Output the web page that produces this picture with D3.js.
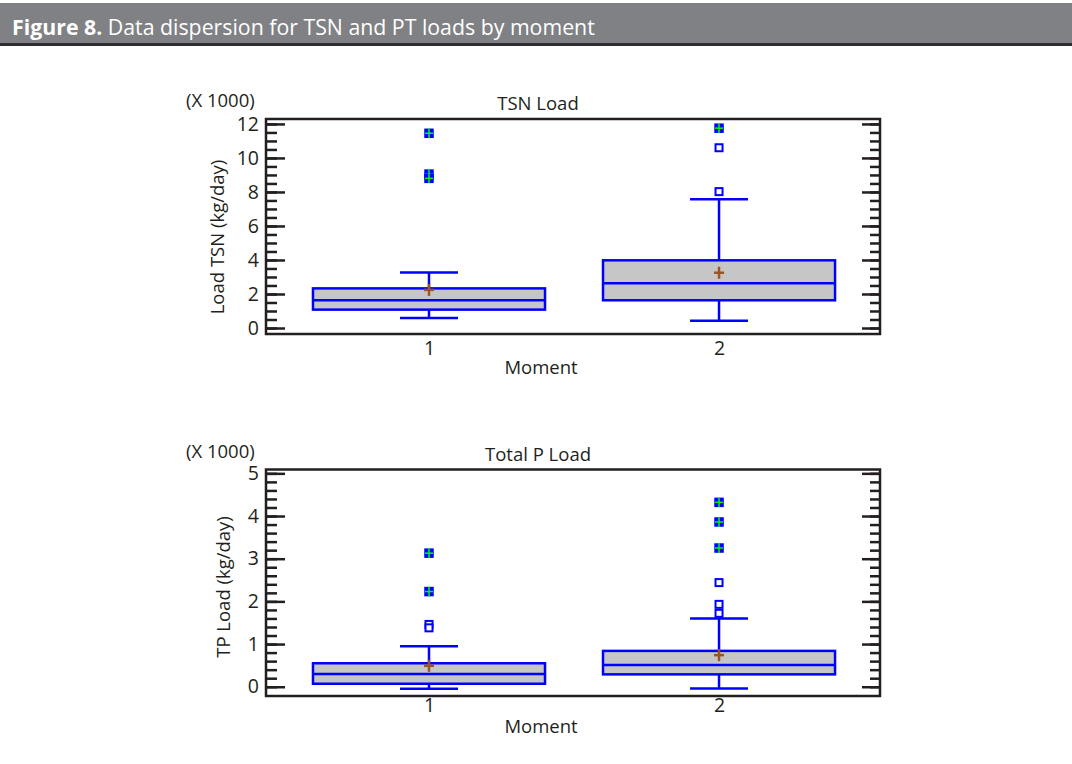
<!DOCTYPE html>
<html>
<head>
<meta charset="utf-8">
<script src="https://cdn.jsdelivr.net/npm/d3@7"></script>
<style>
  body { margin: 0; background: #fff; }
  svg { display: block; font-family: "Open Sans", "Noto Sans", sans-serif; }
</style>
</head>
<body>
<svg id="chart" width="1072" height="764"></svg>
<script>
// values in thousands of kg/day
const moments = [1, 2];

const tsnWhiskerLow  = [0.59, 0.43];
const tsnQ1          = [1.08, 1.63];
const tsnMedian      = [1.63, 2.63];
const tsnQ3          = [2.33, 3.98];
const tsnWhiskerHigh = [3.27, 7.57];
const tsnMean        = [2.24, 3.25];
const tsnOutside     = [[], [10.6, 8.02]];
const tsnFarOutside  = [[11.45, 9.05, 8.8], [11.75]];
const tsnTicks       = [0, 2, 4, 6, 8, 10, 12];

const tpWhiskerLow  = [-0.05, -0.04];
const tpQ1          = [0.07, 0.29];
const tpMedian      = [0.30, 0.51];
const tpQ3          = [0.55, 0.84];
const tpWhiskerHigh = [0.95, 1.60];
const tpMean        = [0.49, 0.74];
const tpOutside     = [[1.46, 1.38], [2.44, 1.93, 1.72]];
const tpFarOutside  = [[3.13, 2.23], [4.32, 3.86, 3.25]];
const tpTicks       = [0, 1, 2, 3, 4, 5];

let svg = d3.select("#chart");
let fs = "18.5px";

//header bar
svg.append("rect").attr("x", 0).attr("y", 3).attr("width", 1072).attr("height", 41).attr("fill", "#808184");
svg.append("rect").attr("x", 0).attr("y", 43).attr("width", 1072).attr("height", 3).attr("fill", "#2e2e2e");
let head = svg.append("text").attr("x", 12).attr("y", 35)
    .attr("fill", "#fff").attr("font-size", "21.3px");
head.append("tspan").attr("font-weight", "bold").text("Figure 8.");
head.append("tspan").text(" Data dispersion for TSN and PT loads by moment");

function draw_panel(p){
    let left = 266, right = 880;
    let x = d3.scaleLinear().domain([0.438, 2.555]).range([left, right]);
    let y = d3.scaleLinear().domain(p.domain).range([p.bottom, p.top]);
    let g = svg.append("g");

    //box frame
    g.append("rect")
        .attr("x", left).attr("y", p.top)
        .attr("width", right - left).attr("height", p.bottom - p.top)
        .attr("fill", "none").attr("stroke", "#231f20").attr("stroke-width", 2.5);

    //ticks inside on left and right
    let minor = d3.range(0, p.ticks[p.ticks.length - 1] + 1e-6, p.minorStep);
    g.append("g").attr("transform", "translate(" + left + ",0)")
        .call(d3.axisRight(y).tickValues(minor).tickSize(11).tickFormat(""));
    g.append("g").attr("transform", "translate(" + left + ",0)")
        .call(d3.axisRight(y).tickValues(p.ticks).tickSize(19).tickFormat(""));
    g.append("g").attr("transform", "translate(" + right + ",0)")
        .call(d3.axisLeft(y).tickValues(minor).tickSize(10).tickFormat(""));
    g.append("g").attr("transform", "translate(" + right + ",0)")
        .call(d3.axisLeft(y).tickValues(p.ticks).tickSize(18).tickFormat(""));
    g.selectAll(".domain").remove();
    g.selectAll(".tick line").attr("stroke", "#231f20").attr("stroke-width", 2.5);

    //tick labels
    let yl = g.append("g").attr("transform", "translate(" + left + ",0)")
        .call(d3.axisLeft(y).tickValues(p.ticks).tickSize(0).tickPadding(7).tickFormat(d3.format("d")));
    yl.select(".domain").remove();
    yl.selectAll("text").attr("font-size", "19.5px").attr("fill", "#231f20")
        .attr("font-family", "'Open Sans', sans-serif");

    let xl = g.append("g").attr("transform", "translate(0," + p.bottom + ")")
        .call(d3.axisBottom(x).tickValues(moments).tickSize(0).tickPadding(p.xPad).tickFormat(d3.format("d")));
    xl.select(".domain").remove();
    xl.selectAll("text").attr("font-size", "19.5px").attr("fill", "#231f20")
        .attr("font-family", "'Open Sans', sans-serif");

    //labels
    g.append("text").attr("x", 186).attr("y", p.top - 12).attr("font-size", fs)
        .attr("fill", "#231f20").text("(X 1000)");
    g.append("text").attr("x", 538).attr("y", p.top - 9).attr("font-size", fs)
        .attr("text-anchor", "middle").attr("fill", "#231f20").text(p.title);
    g.append("text").attr("x", 541).attr("y", p.momentY).attr("font-size", fs)
        .attr("text-anchor", "middle").attr("fill", "#231f20").text("Moment");
    g.append("text").attr("transform", "translate(" + p.labelX + "," + p.labelY + ") rotate(-90)")
        .attr("font-size", fs).attr("text-anchor", "middle").attr("fill", "#231f20").text(p.ylabel);

    let blue = "#0000ff";
    moments.forEach(function(m, i){
        let cx = x(m);
        //whiskers
        g.append("line").attr("x1", cx).attr("x2", cx).attr("y1", y(p.q3[i])).attr("y2", y(p.hi[i]))
            .attr("stroke", blue).attr("stroke-width", 2.5);
        g.append("line").attr("x1", cx).attr("x2", cx).attr("y1", y(p.q1[i])).attr("y2", y(p.lo[i]))
            .attr("stroke", blue).attr("stroke-width", 2.5);
        g.append("line").attr("x1", x(m - 0.1)).attr("x2", x(m + 0.1)).attr("y1", y(p.hi[i])).attr("y2", y(p.hi[i]))
            .attr("stroke", blue).attr("stroke-width", 2.5);
        g.append("line").attr("x1", x(m - 0.1)).attr("x2", x(m + 0.1)).attr("y1", y(p.lo[i])).attr("y2", y(p.lo[i]))
            .attr("stroke", blue).attr("stroke-width", 2.5);
        //box
        g.append("rect").attr("x", x(m - 0.4)).attr("y", y(p.q3[i]))
            .attr("width", x(m + 0.4) - x(m - 0.4)).attr("height", y(p.q1[i]) - y(p.q3[i]))
            .attr("fill", "#c6c6c6").attr("stroke", blue).attr("stroke-width", 2.5);
        g.append("line").attr("x1", x(m - 0.4)).attr("x2", x(m + 0.4)).attr("y1", y(p.med[i])).attr("y2", y(p.med[i]))
            .attr("stroke", blue).attr("stroke-width", 2.5);
        //mean
        let my = y(p.mean[i]);
        g.append("line").attr("x1", cx - 5).attr("x2", cx + 5).attr("y1", my).attr("y2", my)
            .attr("stroke", "#9a5527").attr("stroke-width", 2.5);
        g.append("line").attr("x1", cx).attr("x2", cx).attr("y1", my - 6).attr("y2", my + 6)
            .attr("stroke", "#9a5527").attr("stroke-width", 2.5);
        //outside points
        p.outside[i].forEach(function(v){
            g.append("rect").attr("x", cx - 3.5).attr("y", y(v) - 3.5).attr("width", 7).attr("height", 7)
                .attr("fill", "#fff").attr("stroke", blue).attr("stroke-width", 2);
        });
        //far outside points
        p.far[i].forEach(function(v){
            let py = y(v);
            g.append("rect").attr("x", cx - 4).attr("y", py - 4).attr("width", 8).attr("height", 8)
                .attr("fill", blue).attr("stroke", blue).attr("stroke-width", 1.5);
            g.append("line").attr("x1", cx - 4).attr("x2", cx + 4).attr("y1", py).attr("y2", py)
                .attr("stroke", "#00ff00").attr("stroke-width", 1.5);
            g.append("line").attr("x1", cx).attr("x2", cx).attr("y1", py - 5).attr("y2", py + 5)
                .attr("stroke", "#00ff00").attr("stroke-width", 1.5);
        });
    });
}

draw_panel({
    top: 119, bottom: 334, domain: [-0.353, 12.29], ticks: tsnTicks, minorStep: 0.5,
    xPad: 7, momentY: 374, labelX: 224, labelY: 237,
    title: "TSN Load", ylabel: "Load TSN (kg/day)",
    lo: tsnWhiskerLow, q1: tsnQ1, med: tsnMedian, q3: tsnQ3, hi: tsnWhiskerHigh,
    mean: tsnMean, outside: tsnOutside, far: tsnFarOutside
});

draw_panel({
    top: 469.5, bottom: 696, domain: [-0.217, 5.09], ticks: tpTicks, minorStep: 0.2,
    xPad: 2, momentY: 733, labelX: 230, labelY: 587,
    title: "Total P Load", ylabel: "TP Load (kg/day)",
    lo: tpWhiskerLow, q1: tpQ1, med: tpMedian, q3: tpQ3, hi: tpWhiskerHigh,
    mean: tpMean, outside: tpOutside, far: tpFarOutside
});
</script>
</body>
</html>
